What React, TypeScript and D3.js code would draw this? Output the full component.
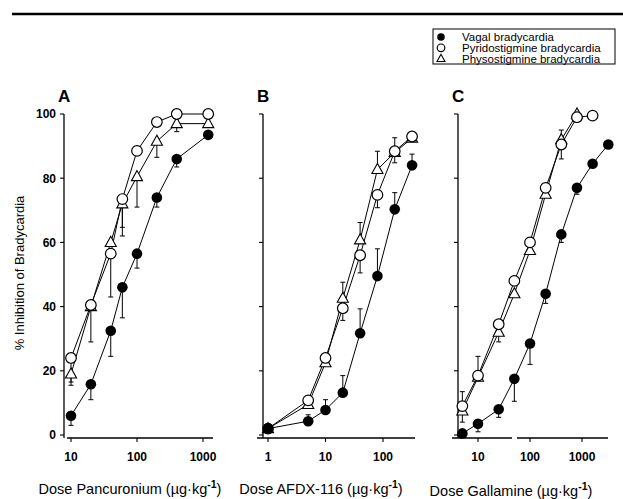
import React from "react";
import * as d3 from "d3";

// ---------- data ----------
const dosesA = [10, 20, 40, 60, 100, 200, 400, 1200];
const vagalA = [6, 15.8, 32.5, 46, 56.5, 74, 86, 93.5];
const vagalAErr = [3, 11, 24.5, 36.5, 52, 71, 83.5, null];
const pyridoA = [24, 40.5, 56.5, 73.5, 88.5, 97.5, 100, 100];
const pyridoAErr = [16.5, 29, 43, 62, null, null, null, null];
const physoA = [19, 40, 60, 72, 80.5, 91.5, 97, 97];
const physoAErr = [15.5, null, null, 64.7, 71, 86.5, 94.5, null];

const dosesB = [1, 5, 10, 20, 40, 80, 160, 320];
const vagalB = [2, 4.3, 7.8, 13.2, 31.7, 49.5, 70.3, 84];
const vagalBErr = [null, 6.3, 11, 18.5, 39.3, 58, 75.5, 87.5];
const pyridoB = [2, 10.8, 24, 39.5, 56, 74.8, 88.4, 93];
const pyridoBErr = [null, null, null, 35.7, 50.5, 70.8, 84.8, null];
const physoB = [2, 9.5, 22.5, 42.6, 60.8, 82.7, 88, 92.5];
const physoBErr = [null, null, null, 47.6, 66.2, 88.4, 92.6, null];

const dosesCVagal = [5, 10, 25, 50, 100, 200, 400, 800, 1600, 3200];
const vagalC = [0.5, 3.5, 8, 17.5, 28.5, 44, 62.5, 77, 84.5, 90.5];
const vagalCErr = [null, 1, 5.5, 10.5, 22, 41, 60, 75, null, null];
const dosesCPyrido = [5, 10, 25, 50, 100, 200, 400, 800, 1600];
const pyridoC = [9, 18.5, 34.5, 48, 60, 77, 90.5, 99, 99.5];
const pyridoCErr = [13.5, 24.5, null, null, 61.5, null, 86, null, null];
const dosesCPhyso = [5, 10, 25, 50, 100, 200, 400, 800];
const physoC = [7.5, 18, 32, 44, 57.5, 75, 92, 100];
const physoCErr = [4, null, 29, null, null, null, 95, null];

const yTicks = [0, 20, 40, 60, 80, 100];
const ticksA = [10, 100, 1000];
const ticksB = [1, 10, 100];
const ticksC = [10, 100, 1000];

const legendLabels = ["Vagal bradycardia", "Pyridostigmine bradycardia", "Physostigmine bradycardia"];

// ---------- layout ----------
const FONT = "Arial, 'Liberation Sans', Helvetica, sans-serif";
const y = d3.scaleLinear().domain([0, 100]).range([435, 114]);
const AXIS_Y = 438;

type Series = { doses: number[]; vals: number[]; errs: (number | null)[]; kind: "filled" | "open" | "tri" };

const Marker = ({ kind, cx, cy, r }: { kind: string; cx: number; cy: number; r: number }) => {
  if (kind === "filled") return <circle cx={cx} cy={cy} r={r} fill="#000" />;
  if (kind === "open") return <circle cx={cx} cy={cy} r={r} fill="#fff" stroke="#000" strokeWidth={1.2} />;
  const h = r * 1.9;
  const w = r * 1.05;
  const pts = `${cx},${cy - h * 0.6} ${cx - w},${cy + h * 0.4} ${cx + w},${cy + h * 0.4}`;
  return <polygon points={pts} fill="#fff" stroke="#000" strokeWidth={1.1} />;
};

const Panel = ({
  x, letter, axisX, axisStart, axisEnd, ticks, series, showLabels, gap,
}: {
  x: d3.ScaleLogarithmic<number, number>; letter: string; axisX: number; axisStart: number; axisEnd: number;
  ticks: number[]; series: Series[]; showLabels: boolean; gap?: [number, number];
}) => {
  const line = d3.line<[number, number]>().x((d) => x(d[0])).y((d) => y(d[1]));
  return (
    <g>
      <text x={axisX - 6} y={102} fontFamily={FONT} fontWeight="bold" fontSize={17}>{letter}</text>
      {/* y axis */}
      <line x1={axisX} x2={axisX} y1={y(100)} y2={AXIS_Y} stroke="#000" strokeWidth={1.3} />
      {yTicks.map((t) => (
        <g key={t}>
          <line x1={axisX - 4} x2={axisX} y1={y(t)} y2={y(t)} stroke="#000" strokeWidth={1.1} />
          {showLabels && (
            <text x={axisX - 8} y={y(t)} dy="0.36em" textAnchor="end" fontFamily={FONT} fontWeight="bold" fontSize={12}>{t}</text>
          )}
        </g>
      ))}
      {/* x axis */}
      {gap ? (
        <>
          <line x1={axisStart} x2={gap[0]} y1={AXIS_Y} y2={AXIS_Y} stroke="#000" strokeWidth={1.3} />
          <line x1={gap[1]} x2={axisEnd} y1={AXIS_Y} y2={AXIS_Y} stroke="#000" strokeWidth={1.3} />
        </>
      ) : (
        <line x1={axisStart} x2={axisEnd} y1={AXIS_Y} y2={AXIS_Y} stroke="#000" strokeWidth={1.3} />
      )}
      {ticks.map((t) => (
        <g key={t}>
          <line x1={x(t)} x2={x(t)} y1={AXIS_Y} y2={AXIS_Y + 4} stroke="#000" strokeWidth={1.1} />
          <text x={x(t)} y={AXIS_Y + 23} textAnchor="middle" fontFamily={FONT} fontWeight="bold" fontSize={12}>{t}</text>
        </g>
      ))}
      {/* lines and error bars */}
      {series.map((s, si) => (
        <g key={si}>
          <path d={line(s.doses.map((d, i) => [d, s.vals[i]]))!} fill="none" stroke="#000" strokeWidth={1} />
          {s.errs.map((e, i) =>
            e === null ? null : (
              <g key={i}>
                <line x1={x(s.doses[i])} x2={x(s.doses[i])} y1={y(s.vals[i])} y2={y(e)} stroke="#000" strokeWidth={1} />
                <line x1={x(s.doses[i]) - 2.5} x2={x(s.doses[i]) + 2.5} y1={y(e)} y2={y(e)} stroke="#000" strokeWidth={1} />
              </g>
            )
          )}
        </g>
      ))}
      {/* markers */}
      {series.map((s, si) => (
        <g key={si}>
          {s.doses.map((d, i) => (
            <Marker key={i} kind={s.kind} cx={x(d)} cy={y(s.vals[i])} r={5.3} />
          ))}
        </g>
      ))}
    </g>
  );
};

const XTitle = ({ cx, cy, name }: { cx: number; cy: number; name: string }) => (
  <text x={cx} y={cy} textAnchor="middle" fontFamily={FONT} fontSize={14.5}>
    {`Dose ${name} (µg·kg`}
    <tspan dy={-6} fontSize={10.5} fontWeight="bold">-1</tspan>
    <tspan dy={6}>)</tspan>
  </text>
);

export default function App() {
  const xA = d3.scaleLog().domain([10, 1000]).range([71, 203]);
  const xB = d3.scaleLog().domain([1, 100]).range([268, 383]);
  const xC = d3.scaleLog().domain([10, 1000]).range([478, 582]);

  const seriesA: Series[] = [
    { doses: dosesA, vals: physoA, errs: physoAErr, kind: "tri" },
    { doses: dosesA, vals: pyridoA, errs: pyridoAErr, kind: "open" },
    { doses: dosesA, vals: vagalA, errs: vagalAErr, kind: "filled" },
  ];
  const seriesB: Series[] = [
    { doses: dosesB, vals: physoB, errs: physoBErr, kind: "tri" },
    { doses: dosesB, vals: pyridoB, errs: pyridoBErr, kind: "open" },
    { doses: dosesB, vals: vagalB, errs: vagalBErr, kind: "filled" },
  ];
  const seriesC: Series[] = [
    { doses: dosesCPhyso, vals: physoC, errs: physoCErr, kind: "tri" },
    { doses: dosesCPyrido, vals: pyridoC, errs: pyridoCErr, kind: "open" },
    { doses: dosesCVagal, vals: vagalC, errs: vagalCErr, kind: "filled" },
  ];

  return (
    <svg width={623} height={499} style={{ position: "absolute", left: 0, top: 0, background: "#fff" }}>
      <rect x={0} y={0} width={623} height={499} fill="#fff" />
      <line x1={12} x2={623} y1={14} y2={14} stroke="#000" strokeWidth={2.5} />

      {/* legend */}
      <rect x={433} y={29} width={182} height={35} fill="#fff" stroke="#000" strokeWidth={1} />
      {legendLabels.map((lab, i) => (
        <g key={lab}>
          <Marker kind={i === 0 ? "filled" : i === 1 ? "open" : "tri"} cx={441} cy={37 + i * 10.8} r={3.8} />
          <text x={462} y={37 + i * 10.8} dy="0.35em" fontFamily={FONT} fontSize={11.5}>{lab}</text>
        </g>
      ))}

      <text transform="translate(24,273) rotate(-90)" textAnchor="middle" fontFamily={FONT} fontSize={13}>
        % Inhibition of Bradycardia
      </text>

      <Panel x={xA} letter="A" axisX={64} axisStart={67} axisEnd={213} ticks={ticksA} series={seriesA} showLabels={true} />
      <Panel x={xB} letter="B" axisX={263} axisStart={257} axisEnd={415} ticks={ticksB} series={seriesB} showLabels={false} />
      <Panel x={xC} letter="C" axisX={458} axisStart={452} axisEnd={608} ticks={ticksC} series={seriesC} showLabels={false} gap={[512, 517]} />

      <XTitle cx={130} cy={494} name="Pancuronium" />
      <XTitle cx={321} cy={494} name="AFDX-116" />
      <XTitle cx={511} cy={496} name="Gallamine" />
    </svg>
  );
}
